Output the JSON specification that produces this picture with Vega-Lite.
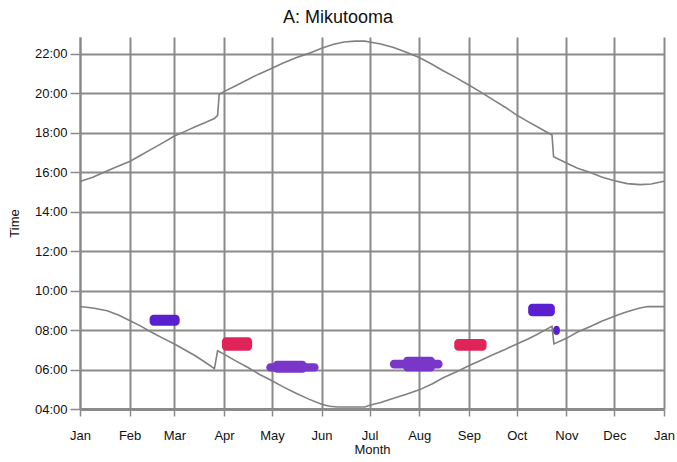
{
  "$schema": "https://vega.github.io/schema/vega-lite/v6.json",
  "width": 584,
  "height": 372,
  "autosize": "none",
  "padding": {"left": 80, "top": 37, "right": 13, "bottom": 53},
  "background": "white",
  "title": {"text": "A: Mikutooma", "font": "Liberation Sans", "fontSize": 18, "fontWeight": "normal", "color": "#111", "anchor": "middle", "dx": -34, "offset": 10},
  "config": {"view": {"stroke": null}},
  "datasets": {
    "sun": [
      {"series": "sunset", "day": 0, "time": 15.53},
      {"series": "sunset", "day": 8, "time": 15.74},
      {"series": "sunset", "day": 15, "time": 16.0},
      {"series": "sunset", "day": 23, "time": 16.27},
      {"series": "sunset", "day": 31, "time": 16.54},
      {"series": "sunset", "day": 38, "time": 16.86},
      {"series": "sunset", "day": 45, "time": 17.18},
      {"series": "sunset", "day": 52, "time": 17.5},
      {"series": "sunset", "day": 59, "time": 17.83},
      {"series": "sunset", "day": 66, "time": 18.08},
      {"series": "sunset", "day": 72, "time": 18.3},
      {"series": "sunset", "day": 78, "time": 18.5},
      {"series": "sunset", "day": 84, "time": 18.72},
      {"series": "sunset", "day": 86, "time": 18.88},
      {"series": "sunset", "day": 87, "time": 19.95},
      {"series": "sunset", "day": 90, "time": 20.08},
      {"series": "sunset", "day": 97, "time": 20.37},
      {"series": "sunset", "day": 105, "time": 20.7},
      {"series": "sunset", "day": 112, "time": 20.98},
      {"series": "sunset", "day": 120, "time": 21.27},
      {"series": "sunset", "day": 127, "time": 21.53},
      {"series": "sunset", "day": 135, "time": 21.8},
      {"series": "sunset", "day": 143, "time": 22.02},
      {"series": "sunset", "day": 151, "time": 22.28},
      {"series": "sunset", "day": 158, "time": 22.47},
      {"series": "sunset", "day": 165, "time": 22.6},
      {"series": "sunset", "day": 172, "time": 22.64},
      {"series": "sunset", "day": 178, "time": 22.64},
      {"series": "sunset", "day": 181, "time": 22.6},
      {"series": "sunset", "day": 188, "time": 22.5},
      {"series": "sunset", "day": 196, "time": 22.32},
      {"series": "sunset", "day": 204, "time": 22.08},
      {"series": "sunset", "day": 212, "time": 21.81},
      {"series": "sunset", "day": 220, "time": 21.47},
      {"series": "sunset", "day": 227, "time": 21.14},
      {"series": "sunset", "day": 235, "time": 20.79},
      {"series": "sunset", "day": 243, "time": 20.42},
      {"series": "sunset", "day": 250, "time": 20.08},
      {"series": "sunset", "day": 258, "time": 19.68},
      {"series": "sunset", "day": 266, "time": 19.28},
      {"series": "sunset", "day": 273, "time": 18.89},
      {"series": "sunset", "day": 280, "time": 18.56},
      {"series": "sunset", "day": 288, "time": 18.2},
      {"series": "sunset", "day": 295, "time": 17.88},
      {"series": "sunset", "day": 296, "time": 16.78},
      {"series": "sunset", "day": 304, "time": 16.47},
      {"series": "sunset", "day": 311, "time": 16.2},
      {"series": "sunset", "day": 319, "time": 15.98},
      {"series": "sunset", "day": 326, "time": 15.76},
      {"series": "sunset", "day": 334, "time": 15.57},
      {"series": "sunset", "day": 342, "time": 15.42},
      {"series": "sunset", "day": 350, "time": 15.37},
      {"series": "sunset", "day": 357, "time": 15.4},
      {"series": "sunset", "day": 365, "time": 15.54},
      {"series": "sunrise", "day": 0, "time": 9.19},
      {"series": "sunrise", "day": 8, "time": 9.12},
      {"series": "sunrise", "day": 17, "time": 8.98},
      {"series": "sunrise", "day": 24, "time": 8.76},
      {"series": "sunrise", "day": 31, "time": 8.48},
      {"series": "sunrise", "day": 38, "time": 8.2},
      {"series": "sunrise", "day": 45, "time": 7.88},
      {"series": "sunrise", "day": 52, "time": 7.58},
      {"series": "sunrise", "day": 59, "time": 7.29},
      {"series": "sunrise", "day": 66, "time": 6.98},
      {"series": "sunrise", "day": 72, "time": 6.7},
      {"series": "sunrise", "day": 78, "time": 6.38},
      {"series": "sunrise", "day": 84, "time": 6.05},
      {"series": "sunrise", "day": 86, "time": 6.95},
      {"series": "sunrise", "day": 90, "time": 6.78},
      {"series": "sunrise", "day": 97, "time": 6.45},
      {"series": "sunrise", "day": 105, "time": 6.1},
      {"series": "sunrise", "day": 112, "time": 5.76},
      {"series": "sunrise", "day": 120, "time": 5.43},
      {"series": "sunrise", "day": 127, "time": 5.12},
      {"series": "sunrise", "day": 135, "time": 4.8},
      {"series": "sunrise", "day": 143, "time": 4.5},
      {"series": "sunrise", "day": 151, "time": 4.24},
      {"series": "sunrise", "day": 156, "time": 4.14},
      {"series": "sunrise", "day": 161, "time": 4.1},
      {"series": "sunrise", "day": 178, "time": 4.1},
      {"series": "sunrise", "day": 181, "time": 4.19},
      {"series": "sunrise", "day": 188, "time": 4.33},
      {"series": "sunrise", "day": 196, "time": 4.55},
      {"series": "sunrise", "day": 204, "time": 4.75},
      {"series": "sunrise", "day": 212, "time": 4.97},
      {"series": "sunrise", "day": 220, "time": 5.27},
      {"series": "sunrise", "day": 227, "time": 5.58},
      {"series": "sunrise", "day": 235, "time": 5.88},
      {"series": "sunrise", "day": 243, "time": 6.19},
      {"series": "sunrise", "day": 250, "time": 6.45},
      {"series": "sunrise", "day": 258, "time": 6.75},
      {"series": "sunrise", "day": 266, "time": 7.03},
      {"series": "sunrise", "day": 273, "time": 7.29},
      {"series": "sunrise", "day": 280, "time": 7.55},
      {"series": "sunrise", "day": 285, "time": 7.75},
      {"series": "sunrise", "day": 290, "time": 7.97},
      {"series": "sunrise", "day": 295, "time": 8.19},
      {"series": "sunrise", "day": 296.2, "time": 7.3},
      {"series": "sunrise", "day": 304, "time": 7.58},
      {"series": "sunrise", "day": 311, "time": 7.9},
      {"series": "sunrise", "day": 319, "time": 8.18},
      {"series": "sunrise", "day": 326, "time": 8.45},
      {"series": "sunrise", "day": 334, "time": 8.7},
      {"series": "sunrise", "day": 340, "time": 8.88},
      {"series": "sunrise", "day": 345, "time": 9.0},
      {"series": "sunrise", "day": 350, "time": 9.12},
      {"series": "sunrise", "day": 355, "time": 9.19},
      {"series": "sunrise", "day": 365, "time": 9.19}
    ],
    "blobs": [
      {"kind": "a", "day": 43.5, "day2": 62.3, "time": 8.22, "time2": 8.78},
      {"kind": "b", "day": 88.7, "day2": 107.6, "time": 6.95, "time2": 7.63},
      {"kind": "c", "day": 116.4, "day2": 149.1, "time": 5.9, "time2": 6.32},
      {"kind": "c", "day": 120.6, "day2": 141.6, "time": 5.84, "time2": 6.44},
      {"kind": "c", "day": 193.7, "day2": 226.6, "time": 6.05, "time2": 6.49},
      {"kind": "c", "day": 202, "day2": 221.8, "time": 5.9, "time2": 6.65},
      {"kind": "b", "day": 233.9, "day2": 254.1, "time": 6.95, "time2": 7.55},
      {"kind": "a", "day": 280.1, "day2": 296.8, "time": 8.7, "time2": 9.33},
      {"kind": "a", "day": 295.8, "day2": 299.9, "time": 7.75, "time2": 8.22}
    ]
  },
  "layer": [
    {
      "data": {"name": "sun"},
      "mark": {"type": "line", "color": "#808080", "strokeWidth": 1.6, "interpolate": "linear"},
      "encoding": {
        "x": {
          "field": "day", "type": "quantitative",
          "scale": {"domain": [0, 365], "nice": false, "zero": false},
          "axis": {
            "title": "Month",
            "values": [0, 7.75, 15.5, 23.25, 31, 38, 45, 52, 59, 66.75, 74.5, 82.25, 90, 97.5, 105, 112.5, 120, 127.75, 135.5, 143.25, 151, 158.5, 166, 173.5, 181, 188.75, 196.5, 204.25, 212, 219.75, 227.5, 235.25, 243, 250.5, 258, 265.5, 273, 280.75, 288.5, 296.25, 304, 311.5, 319, 326.5, 334, 341.75, 349.5, 357.25, 365],
            "labelExpr": "indexof([0,31,59,90,120,151,181,212,243,273,304,334,365], datum.value) >= 0 ? ['Jan','Feb','Mar','Apr','May','Jun','Jul','Aug','Sep','Oct','Nov','Dec','Jan'][indexof([0,31,59,90,120,151,181,212,243,273,304,334,365], datum.value)] : ''",
            "grid": true,
            "gridColor": "#8a8a8a",
            "gridWidth": 2,
            "gridOpacity": {"condition": {"test": "indexof([0,31,59,90,120,151,181,212,243,273,304,334,365], datum.value) >= 0", "value": 1}, "value": 0},
            "tickSize": {"condition": {"test": "indexof([0,31,59,90,120,151,181,212,243,273,304,334,365], datum.value) >= 0", "value": 7}, "value": 6},
            "tickColor": "#8a8a8a",
            "tickWidth": 1.5,
            "domainColor": "#8a8a8a",
            "domainWidth": 3,
            "labelFont": "Liberation Sans",
            "labelFontSize": 13,
            "labelColor": "#111",
            "labelPadding": 13,
            "labelOverlap": false,
            "labelFlush": false,
            "labelBound": false,
            "titleFont": "Liberation Sans",
            "titleFontSize": 13,
            "titleFontWeight": "normal",
            "titleColor": "#111",
            "titlePadding": 1
          }
        },
        "y": {
          "field": "time", "type": "quantitative",
          "scale": {"domain": [4, 22.85], "nice": false, "zero": false},
          "axis": {
            "title": "Time",
            "values": [4, 4.5, 5, 5.5, 6, 6.5, 7, 7.5, 8, 8.5, 9, 9.5, 10, 10.5, 11, 11.5, 12, 12.5, 13, 13.5, 14, 14.5, 15, 15.5, 16, 16.5, 17, 17.5, 18, 18.5, 19, 19.5, 20, 20.5, 21, 21.5, 22, 22.5],
            "labelExpr": "datum.value % 2 == 0 ? ((datum.value < 10 ? '0' : '') + datum.value + ':00') : ''",
            "grid": true,
            "gridColor": "#8a8a8a",
            "gridWidth": 2,
            "gridOpacity": {"condition": {"test": "datum.value % 2 == 0 && datum.value > 4", "value": 1}, "value": 0},
            "tickSize": {"condition": {"test": "datum.value % 2 == 0", "value": 10}, "value": 5},
            "tickColor": "#8a8a8a",
            "tickWidth": 1.5,
            "domainColor": "#8a8a8a",
            "domainWidth": 2,
            "labelFont": "Liberation Sans",
            "labelFontSize": 13,
            "labelColor": "#111",
            "labelPadding": 3,
            "labelOverlap": false,
            "labelFlush": false,
            "labelBound": false,
            "titleFont": "Liberation Sans",
            "titleFontSize": 13,
            "titleFontWeight": "normal",
            "titleColor": "#111",
            "titlePadding": 13
          }
        },
        "detail": {"field": "series", "type": "nominal"}
      }
    },
    {
      "data": {"name": "blobs"},
      "mark": {"type": "rect", "cornerRadius": 4},
      "encoding": {
        "x": {"field": "day", "type": "quantitative", "title": "Month"},
        "x2": {"field": "day2"},
        "y": {"field": "time", "type": "quantitative", "title": "Time"},
        "y2": {"field": "time2"},
        "color": {"field": "kind", "type": "nominal", "scale": {"domain": ["a", "b", "c"], "range": ["#5a20cf", "#e0245a", "#7a36c8"]}, "legend": null}
      }
    }
  ]
}
